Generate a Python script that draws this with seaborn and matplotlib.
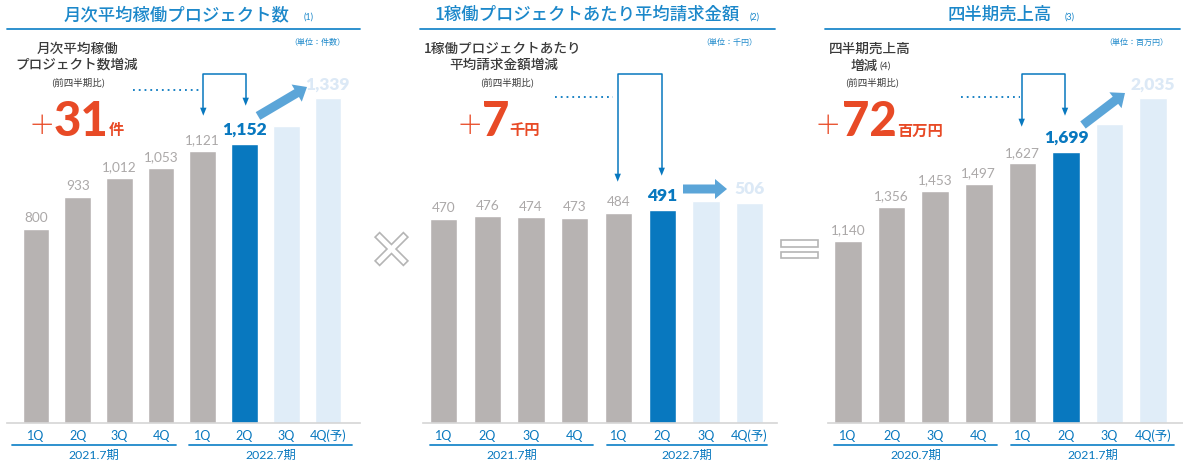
import numpy as np
import pandas as pd
import seaborn as sns
import matplotlib
matplotlib.use("Agg")
import matplotlib.pyplot as plt
import matplotlib.transforms as mtransforms
from matplotlib.patches import FancyArrow, Polygon, Rectangle
from matplotlib.lines import Line2D

# ---- data ----
quarters = ["1Q", "2Q", "3Q", "4Q", "1Q", "2Q", "3Q", "4Q(予)"]
projects = [800, 933, 1012, 1053, 1121, 1152, 1225, 1339]
unit_price = [470, 476, 474, 473, 484, 491, 511, 506]
sales = [1140, 1356, 1453, 1497, 1627, 1699, 1875, 2035]
shown_label = [True, True, True, True, True, True, False, True]
bar_kind = ["past", "past", "past", "past", "past", "now", "plan", "plan"]
years_a = ["2021.7期", "2022.7期"]
years_c = ["2020.7期", "2021.7期"]

sns.set_theme(style="white")
plt.rcParams["font.family"] = ["Noto Sans CJK JP", "DejaVu Sans"]

W, H, DPI = 1183, 464, 100
fig = plt.figure(figsize=(W / DPI, H / DPI), dpi=DPI)
fig.patch.set_facecolor("white")
renderer = fig.canvas.get_renderer()

# pixel coordinates measured from the top-left corner
PX = mtransforms.Affine2D().scale(1, -1).translate(0, H).scale(1 / DPI) + fig.dpi_scale_trans

BLUE = "#0878BF"
TITLE_BLUE = "#1C88CA"
LIGHT = "#E0EDF8"
GRAY = "#B7B3B2"
LABEL_GRAY = "#ABA8A8"
RED = "#E84A26"
ARROW_BLUE = "#5BA5D8"
DARK = "#3A3A3A"
NUM_FONT = ["Lato", "Noto Sans CJK JP"]

palette = {"past": GRAY, "now": BLUE, "plan": LIGHT}


def panel(values, left, right, c0, step, scale, width):
    top, base = 60, 424
    ax = fig.add_axes([left / W, 1 - base / H, (right - left) / W, (base - top) / H])
    df = pd.DataFrame({"slot": [f"s{i}" for i in range(len(values))],
                       "value": values, "kind": bar_kind})
    sns.barplot(data=df, x="slot", y="value", hue="kind", palette=palette,
                dodge=False, legend=False, width=width, saturation=1, ax=ax)
    ax.set_xlim((left - c0) / step, (right - c0) / step)
    ax.set_ylim(0, (base - top) / scale)
    ax.set_xticks(range(len(quarters)))
    ax.set_xticklabels(quarters, color=BLUE, fontsize=9, family=NUM_FONT)
    ax.tick_params(axis="x", length=0, pad=4)
    ax.set_yticks([])
    ax.set_xlabel("")
    ax.set_ylabel("")
    for s in ["top", "left", "right"]:
        ax.spines[s].set_visible(False)
    ax.spines["bottom"].set_color("#D5D5D5")
    ax.spines["bottom"].set_linewidth(1.2)
    ax.set_facecolor("none")
    for i, v in enumerate(values):
        if not shown_label[i]:
            continue
        kind = bar_kind[i]
        if kind == "past":
            ax.annotate(f"{v:,}", (i, v), xytext=(0, 4), textcoords="offset points",
                        ha="center", va="bottom", fontsize=9.8, color=LABEL_GRAY,
                        family=NUM_FONT, fontweight="normal")
        else:
            col = BLUE if kind == "now" else "#DCE9F6"
            ax.annotate(f"{v:,}", (i, v), xytext=(0, 5), textcoords="offset points",
                        ha="center", va="bottom", fontsize=12.5, color=col,
                        family=NUM_FONT, fontweight="heavy")
    return ax


def ptext(x, y, s, **kw):
    return fig.text(x, y, s, transform=PX, **kw)


def pline(xs, ys, **kw):
    fig.add_artist(Line2D(xs, ys, transform=PX, **kw))


def head(x, y_tip):
    fig.add_artist(Polygon([[x - 3.2, y_tip - 8], [x + 3.2, y_tip - 8], [x, y_tip]],
                           closed=True, transform=PX, color=BLUE, lw=0))


def bracket(xl, tip_l, xr, tip_r, ytop=74.5):
    pline([xl, xl, xr, xr], [tip_l - 6, ytop, ytop, tip_r - 6], color=BLUE, lw=1.1)
    head(xl, tip_l)
    head(xr, tip_r)


def group_lines(segments, labels, y=446):
    for (a, b), lab in zip(segments, labels):
        pline([a, b], [y, y], color=TITLE_BLUE, lw=1.3)
        ptext((a + b) / 2, y + 9, lab, ha="center", va="center", fontsize=8.8,
              color=BLUE, family=NUM_FONT)


def header(cx, title, num, num_x, x0, x1, unit, unit_x):
    ptext(cx, 15, title, ha="center", va="center", fontsize=12.5, color=TITLE_BLUE,
          fontweight="medium")
    ptext(num_x, 17.5, num, ha="left", va="center", fontsize=6.5, color=TITLE_BLUE,
          family=NUM_FONT)
    pline([x0, x1], [29.5, 29.5], color=TITLE_BLUE, lw=1.3)
    ptext(unit_x, 42.5, unit, ha="right", va="center", fontsize=5.8, color=TITLE_BLUE)


def big_delta(plus_cx, num_x, num, unit, base_y=135.5):
    ptext(plus_cx, base_y - 9.5, "＋", ha="center", va="center", fontsize=19, color=RED,
          fontweight="light")
    t = ptext(num_x, base_y, num, ha="left", va="baseline", fontsize=34, color=RED,
              family=NUM_FONT, fontweight="black")
    bb = t.get_window_extent(renderer)
    unit_x = bb.x1 * 100 / fig.dpi
    ptext(unit_x, base_y, unit, ha="left", va="baseline", fontsize=11, color=RED,
          fontweight="bold")


def fat_arrow(x0, y0, x1, y1):
    fig.add_artist(FancyArrow(x0, y0, x1 - x0, y1 - y0, width=9, head_width=20,
                              head_length=12, length_includes_head=True,
                              transform=PX, color=ARROW_BLUE, lw=0))


# ---- panel 1: monthly active projects ----
panel(projects, 6.7, 360, 36, 41.7, 0.2425, 0.64)
header(176, "月次平均稼働プロジェクト数", "(1)", 304, 6.7, 360, "（単位：件数）", 345)
ptext(78, 49, "月次平均稼働", ha="center", va="center", fontsize=9.8, color=DARK,
      fontweight="medium")
ptext(77, 65, "プロジェクト数増減", ha="center", va="center", fontsize=9.8, color=DARK,
      fontweight="medium")
ptext(78, 82, "(前四半期比)", ha="center", va="center", fontsize=6.8, color=DARK)
big_delta(41.7, 54, "31", "件")
pline([133, 200], [90.7, 90.7], color=BLUE, lw=1.3, linestyle=(0, (1, 2.2)))
bracket(203.3, 116.7, 245.7, 106.7)
fat_arrow(258, 117, 307, 88)
group_lines([(12.3, 175.7), (189, 352.3)], years_a)

# ---- panel 2: average billing per project ----
panel(unit_price, 423, 777, 443.7, 43.7, 0.434, 0.625)
header(587, "1稼働プロジェクトあたり平均請求金額", "(2)", 750, 420, 775, "（単位：千円）", 757)
ptext(503, 49, "1稼働プロジェクトあたり", ha="center", va="center", fontsize=9.8, color=DARK,
      fontweight="medium")
ptext(504, 65, "平均請求金額増減", ha="center", va="center", fontsize=9.8, color=DARK,
      fontweight="medium")
ptext(506.7, 82, "(前四半期比)", ha="center", va="center", fontsize=6.8, color=DARK)
big_delta(470, 482, "7", "千円")
pline([555, 613], [97.7, 97.7], color=BLUE, lw=1.3, linestyle=(0, (1, 2.2)))
bracket(617.7, 182.7, 661.7, 176.7)
fat_arrow(683, 190, 727, 190)
group_lines([(430, 593.3), (606.7, 766.7)], years_a)

# ---- panel 3: quarterly sales ----
panel(sales, 828, 1183, 848, 43.6, 0.1596, 0.63)
header(1000, "四半期売上高", "(3)", 1065, 825, 1180, "（単位：百万円）", 1168)
ptext(870, 49, "四半期売上高", ha="center", va="center", fontsize=9.8, color=DARK,
      fontweight="medium")
ptext(864, 66, "増減", ha="center", va="center", fontsize=9.8, color=DARK,
      fontweight="medium")
ptext(880, 66.5, "(4)", ha="left", va="center", fontsize=7.5, color=DARK, family=NUM_FONT)
ptext(872, 82, "(前四半期比)", ha="center", va="center", fontsize=6.8, color=DARK)
big_delta(828, 842, "72", "百万円")
pline([961, 1020], [97.7, 97.7], color=BLUE, lw=1.3, linestyle=(0, (1, 2.2)))
bracket(1021.7, 127.7, 1065, 116.7)
fat_arrow(1083, 126, 1125, 94)
group_lines([(834.3, 997.3), (1011, 1174)], years_c)

# ---- operators between panels ----
cx, cy, a, b = 391.5, 250, 20.0, 3.2
plus = np.array([(-b, a), (b, a), (b, b), (a, b), (a, -b), (b, -b), (b, -a),
                 (-b, -a), (-b, -b), (-a, -b), (-a, b), (-b, b)])
rot = np.array([[np.cos(np.pi / 4), -np.sin(np.pi / 4)],
                [np.sin(np.pi / 4), np.cos(np.pi / 4)]])
cross = plus @ rot.T + [cx, cy]
fig.add_artist(Polygon(cross, closed=True, transform=PX, facecolor="white",
                       edgecolor="#B5B5B5", lw=1.2))
for y0 in (241, 252.5):
    fig.add_artist(Rectangle((780.7, y0), 37, 6.5, transform=PX, facecolor="white",
                             edgecolor="#B5B5B5", lw=1.2))

fig.savefig("out.png", dpi=DPI, facecolor="white")
